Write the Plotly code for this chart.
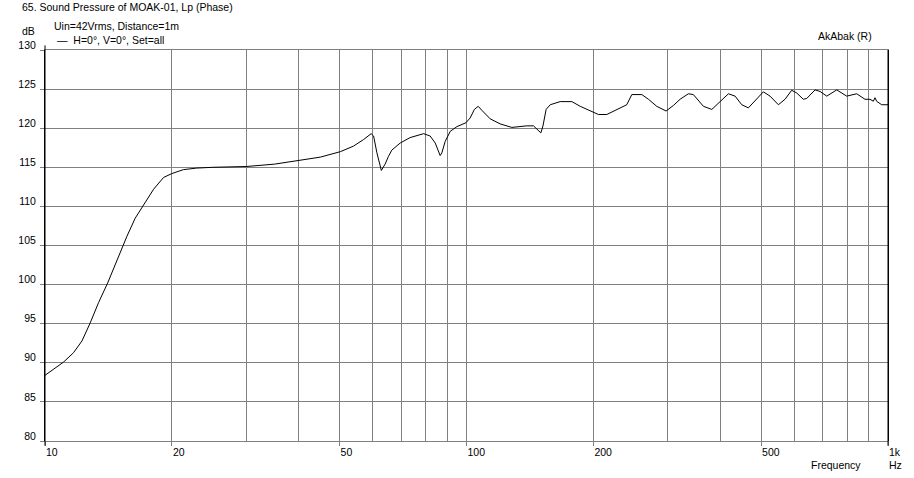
import plotly.graph_objects as go

# ---- data ----
freq_hz = [10, 10.58, 11.07, 11.69, 12.24, 12.80, 13.40, 14.08, 14.82, 15.65, 16.37, 17.13,
           18.10, 19.11, 20.0, 21.3, 22.9, 25.0, 27.5, 30, 35, 40, 45, 50.2, 53.9, 57.0,
           59.4, 60.2, 61.3, 62.8, 64.1, 65.3, 66.5, 69.6, 73.5, 79.1, 82.0, 84.3, 86.6,
           87.4, 89.0, 91.5, 94.9, 99.7, 102.0, 104.4, 106.6, 108.7, 113.8, 120.2, 128.1,
           139.0, 144.2, 150.1, 151.8, 154.5, 158, 166.8, 177.8, 186.1, 196.6, 205.6,
           215.2, 227.3, 240.0, 246.7, 260.6, 270.2, 282.7, 297.5, 309.6, 321.1, 336.0,
           345.3, 364.8, 381.9, 399.7, 418.2, 433.8, 449.8, 466.4, 488.3, 506.1, 525.0,
           549.5, 569.8, 590.9, 607.4, 629.7, 641.5, 671.4, 690.0, 715.6, 755.8, 798.0,
           842.8, 881.9, 906.3, 923, 931.3, 939.8, 966.0, 1000]
spl_db = [88.4, 89.4, 90.1, 91.3, 92.8, 95.1, 97.7, 100.2, 103.2, 106.2, 108.5, 110.2,
          112.2, 113.7, 114.2, 114.7, 114.9, 115.0, 115.05, 115.1, 115.4, 115.9, 116.3,
          117.0, 117.7, 118.55, 119.3, 119.0, 116.85, 114.6, 115.4, 116.4, 117.2, 118.1,
          118.8, 119.3, 119.0, 118.1, 116.5, 116.85, 118.3, 119.6, 120.2, 120.7, 121.3,
          122.4, 122.8, 122.3, 121.2, 120.55, 120.1, 120.3, 120.3, 119.4, 120.26, 122.4,
          123.0, 123.4, 123.4, 122.8, 122.2, 121.75, 121.75, 122.4, 123.0, 124.3, 124.3,
          123.7, 122.8, 122.2, 122.9, 123.7, 124.4, 124.3, 122.8, 122.4, 123.45, 124.4,
          124.1, 123.0, 122.6, 123.7, 124.65, 124.1, 123.0, 123.7, 124.85, 124.5, 123.7,
          123.8, 124.9, 124.7, 124.1, 124.9, 124.1, 124.4, 123.7, 123.7, 123.45, 123.9,
          123.45, 123.0, 123.0]

x_label_vals = [10, 20, 50, 100, 200, 500, 1000]
x_label_text = ["10", "20", "50", "100", "200", "500", "1k"]
x_grid_vals = [30, 40, 60, 70, 80, 90, 300, 400, 600, 700, 800, 900]
y_tick_vals = [80, 85, 90, 95, 100, 105, 110, 115, 120, 125, 130]

title_text = "65. Sound Pressure of MOAK-01, Lp (Phase)"
subtitle_text = "Uin=42Vrms, Distance=1m"
series_name = "H=0°, V=0°, Set=all"

FONT = "Liberation Sans, Arial, sans-serif"
FSIZE = 10.5
GRAY = "#808080"

fig = go.Figure()
fig.add_trace(go.Scatter(x=freq_hz, y=spl_db, mode="lines", name=series_name,
                         line=dict(color="black", width=1), showlegend=False))

fig.update_layout(
    width=914, height=478,
    margin=dict(l=45, r=26, t=50, b=37, pad=0),
    paper_bgcolor="white", plot_bgcolor="white",
    font=dict(family=FONT, size=FSIZE, color="black"),
    xaxis=dict(type="log", range=[1, 3], tickmode="array",
               tickvals=x_label_vals, ticktext=x_label_text,
               ticklabelposition="outside right", ticklabelstandoff=1,
               ticks="outside", ticklen=4, tickcolor=GRAY, tickwidth=1,
               showgrid=True, gridcolor=GRAY, gridwidth=1,
               minor=dict(tickmode="array", tickvals=x_grid_vals, showgrid=True,
                          gridcolor=GRAY, gridwidth=1, ticks=""),
               showline=True, linecolor=GRAY, linewidth=1, mirror=True,
               zeroline=False, fixedrange=True),
    yaxis=dict(range=[80, 130], tickmode="array", tickvals=y_tick_vals,
               ticklabelshift=-5, ticklabelstandoff=2,
               ticks="outside", ticklen=4, tickcolor=GRAY, tickwidth=1,
               showgrid=True, gridcolor=GRAY, gridwidth=1,
               showline=True, linecolor="black", linewidth=1, mirror=True,
               zeroline=False, fixedrange=True),
)

# black reference line at 100 Hz and extended axis lines
fig.add_shape(type="line", xref="x", yref="paper", x0=2, x1=2, y0=-0.01, y1=1,
              line=dict(color="black", width=1))
fig.add_shape(type="line", xref="paper", yref="paper", x0=0, x1=0, y0=-0.012, y1=1.012,
              line=dict(color="black", width=1))
fig.add_shape(type="line", xref="paper", yref="paper", x0=1, x1=1, y0=-0.012, y1=1,
              line=dict(color="black", width=1))

W, H = 843.0, 391.0
def px(xp):
    return (xp - 45) / W
def py(yp):
    return (441 - yp) / H

def note(text, x, y, xanchor="left"):
    fig.add_annotation(text=text, xref="paper", yref="paper", x=x, y=y,
                       xanchor=xanchor, yanchor="middle", showarrow=False,
                       font=dict(family=FONT, size=FSIZE, color="black"), borderpad=0)

note(title_text, px(21), py(7))
note(subtitle_text, px(53), py(26))
note("dB", px(36), py(31), xanchor="right")
note("—  " + series_name, px(56), py(40))
note("AkAbak (R)", px(817), py(36))
note("Frequency", px(862), py(465), xanchor="right")
note("Hz", px(888), py(465))

fig.write_html("out.html", config={"displayModeBar": False},
               post_script="document.body.style.margin='0';")
